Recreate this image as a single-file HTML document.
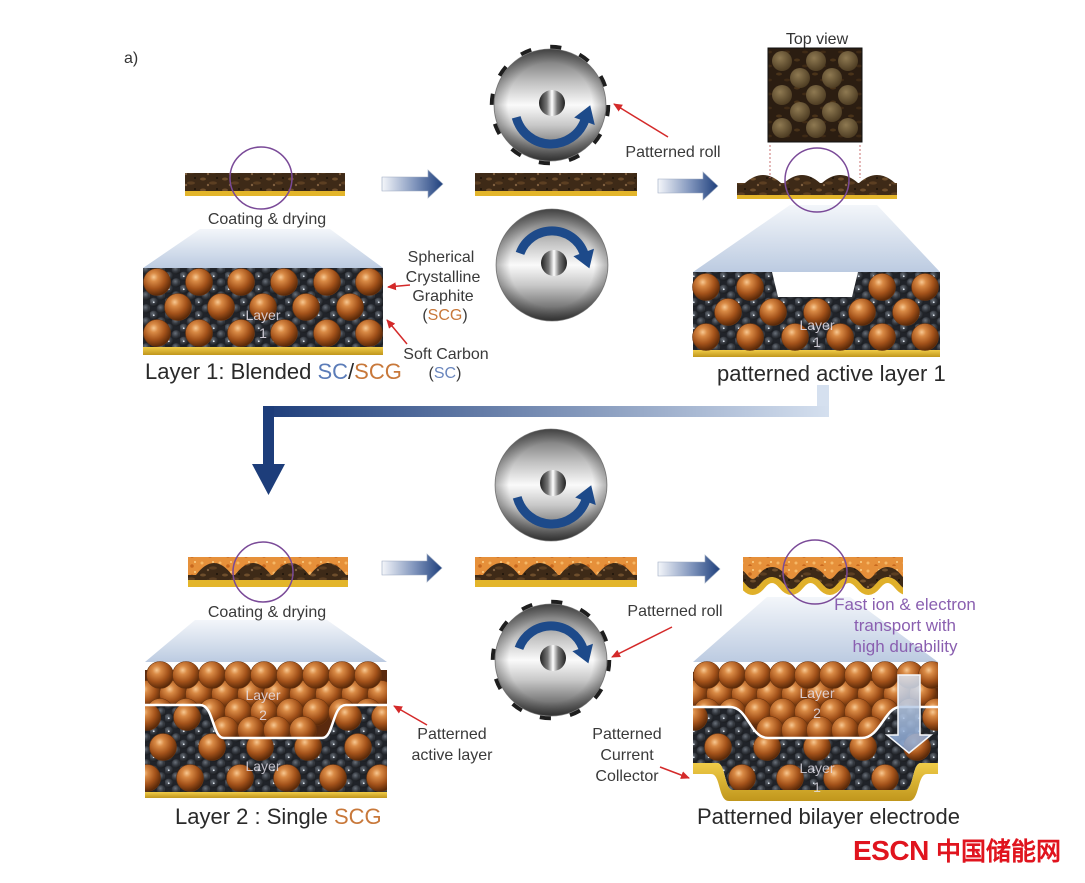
<!DOCTYPE html>
<html><head><meta charset="utf-8"><style>
html,body{margin:0;padding:0;background:#fff;}
svg{display:block;}
text{font-family:"Liberation Sans",Arial,sans-serif;}
</style></head><body>
<svg width="1085" height="883" viewBox="0 0 1085 883" xmlns="http://www.w3.org/2000/svg">
<defs>
<radialGradient id="gcu" cx="0.38" cy="0.32" r="0.72">
 <stop offset="0" stop-color="#f7c892"/>
 <stop offset="0.22" stop-color="#d98a45"/>
 <stop offset="0.6" stop-color="#a3521a"/>
 <stop offset="1" stop-color="#4f2306"/>
</radialGradient>
<radialGradient id="gcb" cx="0.4" cy="0.35" r="0.7">
 <stop offset="0" stop-color="#6a717a"/>
 <stop offset="0.5" stop-color="#363a41"/>
 <stop offset="1" stop-color="#15171a"/>
</radialGradient>
<radialGradient id="gdot" cx="0.4" cy="0.35" r="0.7">
 <stop offset="0" stop-color="#8f7a52"/>
 <stop offset="1" stop-color="#4a3920"/>
</radialGradient>
<g id="cu"><circle r="13.5" fill="url(#gcu)" stroke="#6b3510" stroke-width="0.6"/></g>
<pattern id="carb" width="15" height="13" patternUnits="userSpaceOnUse">
 <rect width="15" height="13" fill="#202329"/>
 <circle cx="3.75" cy="3.25" r="4.6" fill="url(#gcb)"/>
 <circle cx="11.25" cy="9.75" r="4.6" fill="url(#gcb)"/>
 <circle cx="11.25" cy="-3.25" r="4.6" fill="url(#gcb)"/>
 <circle cx="-3.75" cy="9.75" r="4.6" fill="url(#gcb)"/>
 <circle cx="18.75" cy="9.75" r="4.6" fill="url(#gcb)"/>
 <circle cx="3.75" cy="16.25" r="4.6" fill="url(#gcb)"/>
 <circle cx="3.75" cy="3.25" r="0.9" fill="#dfe6ee"/>
</pattern>
<linearGradient id="metal" x1="0" y1="0" x2="0" y2="1">
 <stop offset="0" stop-color="#5e5e5e"/>
 <stop offset="0.3" stop-color="#c2c2c2"/>
 <stop offset="0.5" stop-color="#fafafa"/>
 <stop offset="0.68" stop-color="#c8c8c8"/>
 <stop offset="1" stop-color="#444"/>
</linearGradient>
<radialGradient id="rim" cx="0.5" cy="0.5" r="0.5">
 <stop offset="0.75" stop-color="#000" stop-opacity="0"/>
 <stop offset="1" stop-color="#000" stop-opacity="0.3"/>
</radialGradient>
<linearGradient id="hub" x1="0" x2="1" y1="0" y2="0">
 <stop offset="0" stop-color="#222"/>
 <stop offset="0.3" stop-color="#777"/>
 <stop offset="0.5" stop-color="#fff"/>
 <stop offset="0.7" stop-color="#777"/>
 <stop offset="1" stop-color="#222"/>
</linearGradient>
<linearGradient id="barrow" x1="0" x2="1">
 <stop offset="0" stop-color="#f4f6fa"/>
 <stop offset="0.55" stop-color="#7e93bb"/>
 <stop offset="1" stop-color="#1e3f7c"/>
</linearGradient>
<linearGradient id="cone" x1="0" y1="0" x2="0" y2="1">
 <stop offset="0" stop-color="#f3f6fa"/>
 <stop offset="1" stop-color="#bccbe1"/>
</linearGradient>
<linearGradient id="bigL" gradientUnits="userSpaceOnUse" x1="263" y1="0" x2="830" y2="0">
 <stop offset="0" stop-color="#1d3d7a"/>
 <stop offset="1" stop-color="#d5e0ef"/>
</linearGradient>
<linearGradient id="yel" x1="0" y1="0" x2="0" y2="1">
 <stop offset="0" stop-color="#f0cc48"/>
 <stop offset="1" stop-color="#c0961c"/>
</linearGradient>
<linearGradient id="blueDown" x1="0" y1="0" x2="0" y2="1">
 <stop offset="0" stop-color="#dde7f4"/>
 <stop offset="1" stop-color="#7f9fd0"/>
</linearGradient>
<pattern id="soil" width="22" height="11" patternUnits="userSpaceOnUse">
 <rect width="22" height="11" fill="#3e2a17"/>
 <ellipse cx="5" cy="3" rx="3" ry="1.5" fill="#6e4e2c"/>
 <ellipse cx="15" cy="7" rx="4" ry="1.6" fill="#5c3f22"/>
 <circle cx="10" cy="9" r="1.2" fill="#806040"/>
 <circle cx="19" cy="2" r="1" fill="#1d130a"/>
</pattern>
<pattern id="soil2" width="18" height="14" patternUnits="userSpaceOnUse">
 <rect width="18" height="14" fill="#2b1d11"/>
 <ellipse cx="5" cy="4" rx="3" ry="1.5" fill="#4a3319"/>
 <ellipse cx="13" cy="10" rx="3" ry="1.4" fill="#3f2a15"/>
</pattern>
<pattern id="orng" width="18" height="10" patternUnits="userSpaceOnUse">
 <rect width="18" height="10" fill="#e6903a"/>
 <circle cx="4" cy="3" r="1.5" fill="#f6b866"/>
 <circle cx="12" cy="6" r="1.8" fill="#c8691e"/>
 <circle cx="15" cy="2" r="1" fill="#fbcf86"/>
</pattern>
<marker id="ra" markerWidth="9" markerHeight="8" refX="8" refY="4" orient="auto" markerUnits="userSpaceOnUse"><path d="M0,0 L9,4 L0,8 Z" fill="#d42a2a"/></marker>

<g id="rollbody">
 <circle r="56" fill="url(#metal)" stroke="#8a8a8a" stroke-width="0.8"/>
 <circle r="56" fill="url(#rim)"/>
 <circle cx="2" cy="-2" r="13" fill="url(#hub)"/>
</g>
<g id="teeth"><circle r="57.5" fill="none" stroke="#1e1e1e" stroke-width="5.5" stroke-dasharray="11 19.1"/></g>
<g id="arcLow">
 <path d="M-33.8,12.3 A36,36 0 0 0 34.8,15.3" fill="none" stroke="#1d4a8a" stroke-width="9"/>
 <polygon points="40.2,0.3 44.8,20 24.2,12.5" fill="#1d4a8a"/>
</g>
<g id="arcUp">
 <path d="M-32,-11.6 A34,34 0 0 1 32,-11.6" fill="none" stroke="#1d4a8a" stroke-width="9"/>
 <polygon points="37.4,3.4 42,-16.2 21.4,-8.8" fill="#1d4a8a"/>
</g>
<path id="wv" d="M685.4,0 Q695,-12 704.65,0 T723.9,0 T743.15,0 T762.4,0 T781.65,0 T800.9,0 T820.15,0 T839.4,0 T858.65,0 T877.9,0 T897.15,0 T916.4,0" fill="none"/>

<clipPath id="cBL"><rect x="145" y="640" width="242" height="152"/></clipPath>
<clipPath id="cBL2"><path d="M145,640 H387 V705 H346 C332,705 334,738 322,738 H224 C212,738 214,705 200,705 H145 Z"/></clipPath>
<clipPath id="cBR1"><path d="M693,700 H938 V763 H921 C912,763 914,790 905,790 H733 C724,790 726,763 717,763 H693 Z"/></clipPath>
<clipPath id="cBR2"><path d="M693,640 H938 V707 H900 C885,707 880,738 862,738 H768 C750,738 748,707 730,707 H693 Z"/></clipPath>
<clipPath id="cF"><rect x="743" y="550" width="160" height="50"/></clipPath>
<clipPath id="cF2"><rect x="743" y="557" width="160" height="40"/></clipPath>
</defs>

<rect width="1085" height="883" fill="#fff"/>

<text x="124" y="63" font-size="16" fill="#333">a)</text>

<!-- cones -->
<polygon points="200,229 330,229 383,268 143,268" fill="url(#cone)"/>
<polygon points="790,205 877,205 940,272 693,272" fill="url(#cone)"/>
<polygon points="195,620 327,620 387,662 145,662" fill="url(#cone)"/>
<polygon points="767,597 850,597 938,662 693,662" fill="url(#cone)"/>

<!-- top films -->
<rect x="185" y="173" width="160" height="18" fill="url(#soil)"/>
<rect x="185" y="191" width="160" height="5" fill="#e3b52a"/>
<rect x="475" y="173" width="162" height="18" fill="url(#soil)"/>
<rect x="475" y="191" width="162" height="5" fill="#e3b52a"/>
<path d="M737,183 L745,183 Q763,167 781,183 L784,183 Q802,167 820,183 L822,183 Q840,167 858,183 L859,183 Q877,167 895,183 L897,183 L897,195 L737,195 Z" fill="url(#soil)"/>
<rect x="737" y="195" width="160" height="4" fill="#e3b52a"/>

<!-- top view -->
<text x="817" y="44" font-size="16" fill="#333" text-anchor="middle">Top view</text>
<rect x="768" y="48" width="94" height="94" fill="url(#soil2)" stroke="#111" stroke-width="1"/>
<g fill="url(#gdot)">
<circle cx="782" cy="61" r="10"/><circle cx="816" cy="61" r="10"/><circle cx="848" cy="61" r="10"/>
<circle cx="800" cy="78" r="10"/><circle cx="832" cy="78" r="10"/>
<circle cx="782" cy="95" r="10"/><circle cx="816" cy="95" r="10"/><circle cx="848" cy="95" r="10"/>
<circle cx="800" cy="112" r="10"/><circle cx="832" cy="112" r="10"/>
<circle cx="782" cy="128" r="10"/><circle cx="816" cy="128" r="10"/><circle cx="848" cy="128" r="10"/>
</g>
<line x1="770" y1="145" x2="770" y2="178" stroke="#c87070" stroke-width="1" stroke-dasharray="2 2"/>
<line x1="860" y1="145" x2="860" y2="178" stroke="#c87070" stroke-width="1" stroke-dasharray="2 2"/>

<!-- block arrows -->
<polygon points="382,177 428,177 428,170 443,184 428,198 428,191 382,191" fill="url(#barrow)" stroke="#9aa8c0" stroke-width="0.6"/>
<polygon points="658,179 703,179 703,172 718,186 703,200 703,193 658,193" fill="url(#barrow)" stroke="#9aa8c0" stroke-width="0.6"/>
<polygon points="382,561 427,561 427,554 442,568 427,582 427,575 382,575" fill="url(#barrow)" stroke="#9aa8c0" stroke-width="0.6"/>
<polygon points="658,562 705,562 705,555 720,569 705,583 705,576 658,576" fill="url(#barrow)" stroke="#9aa8c0" stroke-width="0.6"/>

<!-- rollers -->
<g transform="translate(550,105)"><use href="#teeth"/><use href="#rollbody"/><use href="#arcLow"/></g>
<g transform="translate(552,265)"><use href="#rollbody"/><use href="#arcUp"/></g>
<g transform="translate(551,485)"><use href="#rollbody"/><use href="#arcLow"/></g>
<g transform="translate(551,660)"><use href="#teeth"/><use href="#rollbody"/><use href="#arcUp"/></g>

<!-- top-left block -->
<rect x="143" y="268" width="240" height="80" fill="url(#carb)"/>
<rect x="143" y="347" width="240" height="8" fill="url(#yel)"/>
<g>
<use href="#cu" x="157" y="282"/><use href="#cu" x="199" y="282"/><use href="#cu" x="241" y="282"/><use href="#cu" x="284" y="282"/><use href="#cu" x="327" y="282"/><use href="#cu" x="369" y="282"/>
<use href="#cu" x="178" y="307"/><use href="#cu" x="221" y="307"/><use href="#cu" x="263" y="307"/><use href="#cu" x="306" y="307"/><use href="#cu" x="350" y="307"/>
<use href="#cu" x="157" y="333"/><use href="#cu" x="199" y="333"/><use href="#cu" x="241" y="333"/><use href="#cu" x="284" y="333"/><use href="#cu" x="327" y="333"/><use href="#cu" x="369" y="333"/>
</g>
<text x="263" y="320" font-size="14" fill="#e6e2ec" fill-opacity="0.85" text-anchor="middle">Layer</text>
<text x="263" y="338" font-size="14" fill="#e6e2ec" fill-opacity="0.85" text-anchor="middle">1</text>

<!-- top-right block -->
<path d="M693,272 H772 L778,297 H852 L858,272 H940 V350 H693 Z" fill="url(#carb)"/>
<rect x="693" y="350" width="247" height="7" fill="url(#yel)"/>
<use href="#cu" x="706" y="287"/><use href="#cu" x="750" y="287"/><use href="#cu" x="882" y="287"/><use href="#cu" x="925" y="287"/>
<use href="#cu" x="728" y="312"/><use href="#cu" x="773" y="312"/><use href="#cu" x="817" y="312"/><use href="#cu" x="862" y="312"/><use href="#cu" x="906" y="312"/>
<use href="#cu" x="706" y="337"/><use href="#cu" x="750" y="337"/><use href="#cu" x="795" y="337"/><use href="#cu" x="840" y="337"/><use href="#cu" x="882" y="337"/><use href="#cu" x="925" y="337"/>
<text x="817" y="330" font-size="14" fill="#e6e2ec" fill-opacity="0.85" text-anchor="middle">Layer</text>
<text x="817" y="347" font-size="14" fill="#e6e2ec" fill-opacity="0.85" text-anchor="middle">1</text>

<!-- purple circles top -->
<circle cx="261" cy="178" r="31" fill="none" stroke="#7a4a98" stroke-width="1.5"/>
<circle cx="817" cy="180" r="32" fill="none" stroke="#7a4a98" stroke-width="1.5"/>

<!-- top labels -->
<text x="267" y="224" font-size="16" fill="#3a3a3a" text-anchor="middle">Coating &amp; drying</text>
<text x="673" y="157" font-size="16" fill="#3a3a3a" text-anchor="middle">Patterned roll</text>
<g font-size="16" fill="#3a3a3a" text-anchor="middle">
<text x="441" y="262">Spherical</text>
<text x="443" y="282">Crystalline</text>
<text x="443" y="301">Graphite</text>
<text x="445" y="320">(<tspan fill="#c8783a">SCG</tspan>)</text>
<text x="446" y="359">Soft Carbon</text>
<text x="445" y="378">(<tspan fill="#6a86bd">SC</tspan>)</text>
</g>
<text x="145" y="379" font-size="22" fill="#2a2a2a">Layer 1: Blended <tspan fill="#5b7cb8">SC</tspan>/<tspan fill="#c8783a">SCG</tspan></text>
<text x="717" y="381" font-size="22" fill="#2a2a2a">patterned active layer 1</text>

<!-- red arrows top -->
<line x1="668" y1="137" x2="614" y2="104" stroke="#d42a2a" stroke-width="1.5" marker-end="url(#ra)"/>
<line x1="410" y1="285" x2="388" y2="287" stroke="#d42a2a" stroke-width="1.5" marker-end="url(#ra)"/>
<line x1="407" y1="344" x2="387" y2="320" stroke="#d42a2a" stroke-width="1.5" marker-end="url(#ra)"/>

<!-- big L arrow -->
<rect x="817" y="385" width="12" height="32" fill="#d5e0ef"/>
<rect x="263" y="406" width="566" height="11" fill="url(#bigL)"/>
<rect x="263" y="406" width="11" height="60" fill="#1d3d7a"/>
<polygon points="252,464 285,464 268.5,495" fill="#1d3d7a"/>

<!-- bottom films -->
<rect x="188" y="557" width="160" height="23" fill="url(#orng)"/>
<path d="M188,575 L196,575 Q214,551 232,575 L235,575 Q253,551 271,575 L273,575 Q291,551 309,575 L310,575 Q328,551 346,575 L348,575 L348,581 L188,581 Z" fill="url(#soil)"/>
<rect x="188" y="580" width="160" height="7" fill="#e3b52a"/>

<rect x="475" y="557" width="162" height="23" fill="url(#orng)"/>
<path d="M475,575 L483,575 Q501,551 519,575 L522,575 Q540,551 558,575 L560,575 Q578,551 596,575 L597,575 Q615,551 633,575 L637,575 L637,581 L475,581 Z" fill="url(#soil)"/>
<rect x="475" y="580" width="162" height="7" fill="#e3b52a"/>

<g clip-path="url(#cF2)"><use href="#wv" y="568" stroke="url(#orng)" stroke-width="20"/><rect x="743" y="557" width="160" height="9" fill="url(#orng)"/></g>
<g clip-path="url(#cF)">
<use href="#wv" y="578" stroke="url(#soil)" stroke-width="10"/>
<use href="#wv" y="586" stroke="#e0b02a" stroke-width="6"/>
</g>

<!-- purple circles bottom -->
<circle cx="263" cy="572" r="30" fill="none" stroke="#7a4a98" stroke-width="1.5"/>
<circle cx="815" cy="572" r="32" fill="none" stroke="#7a4a98" stroke-width="1.5"/>

<!-- bottom-left block -->
<rect x="145" y="700" width="242" height="92" fill="url(#carb)"/>
<rect x="145" y="792" width="242" height="6" fill="url(#yel)"/>
<g clip-path="url(#cBL)">
<use href="#cu" x="147" y="717"/><use href="#cu" x="187" y="717"/><use href="#cu" x="348" y="717"/><use href="#cu" x="385" y="717"/>
<use href="#cu" x="163" y="747"/><use href="#cu" x="212" y="747"/><use href="#cu" x="260" y="747"/><use href="#cu" x="308" y="747"/><use href="#cu" x="358" y="747"/>
<use href="#cu" x="147" y="778"/><use href="#cu" x="190" y="778"/><use href="#cu" x="240" y="778"/><use href="#cu" x="287" y="778"/><use href="#cu" x="333" y="778"/><use href="#cu" x="380" y="778"/>
</g>
<g clip-path="url(#cBL2)">
<rect x="145" y="670" width="242" height="70" fill="#5a2a0e"/>
<use href="#cu" x="147" y="694"/><use href="#cu" x="173" y="694"/><use href="#cu" x="199" y="694"/><use href="#cu" x="225" y="694"/><use href="#cu" x="251" y="694"/><use href="#cu" x="277" y="694"/><use href="#cu" x="303" y="694"/><use href="#cu" x="329" y="694"/><use href="#cu" x="355" y="694"/><use href="#cu" x="381" y="694"/>
<use href="#cu" x="160" y="712"/><use href="#cu" x="186" y="712"/><use href="#cu" x="212" y="712"/><use href="#cu" x="238" y="712"/><use href="#cu" x="264" y="712"/><use href="#cu" x="290" y="712"/><use href="#cu" x="316" y="712"/><use href="#cu" x="342" y="712"/><use href="#cu" x="368" y="712"/>
<use href="#cu" x="225" y="730"/><use href="#cu" x="251" y="730"/><use href="#cu" x="277" y="730"/><use href="#cu" x="303" y="730"/>
<use href="#cu" x="160" y="675"/><use href="#cu" x="186" y="675"/><use href="#cu" x="212" y="675"/><use href="#cu" x="238" y="675"/><use href="#cu" x="264" y="675"/><use href="#cu" x="290" y="675"/><use href="#cu" x="316" y="675"/><use href="#cu" x="342" y="675"/><use href="#cu" x="368" y="675"/>
</g>
<path d="M145,705 H200 C214,705 212,738 224,738 H322 C334,738 332,705 346,705 H387" fill="none" stroke="#fff" stroke-width="2.5"/>
<text x="263" y="700" font-size="14" fill="#e6e2ec" fill-opacity="0.85" text-anchor="middle">Layer</text>
<text x="263" y="720" font-size="14" fill="#e6e2ec" fill-opacity="0.85" text-anchor="middle">2</text>
<text x="263" y="771" font-size="14" fill="#e6e2ec" fill-opacity="0.8" text-anchor="middle">Layer</text>

<!-- bottom-right block -->
<g clip-path="url(#cBR1)">
<rect x="693" y="700" width="245" height="92" fill="url(#carb)"/>
<use href="#cu" x="694" y="717"/><use href="#cu" x="936" y="717"/>
<use href="#cu" x="718" y="747"/><use href="#cu" x="767" y="747"/><use href="#cu" x="817" y="747"/><use href="#cu" x="863" y="747"/><use href="#cu" x="917" y="747"/>
<use href="#cu" x="742" y="778"/><use href="#cu" x="790" y="778"/><use href="#cu" x="837" y="778"/><use href="#cu" x="885" y="778"/>
</g>
<path d="M693,763 H717 C726,763 724,790 733,790 H905 C914,790 912,763 921,763 H938 V774 H927 C917,774 920,801 909,801 H729 C718,801 721,774 711,774 H693 Z" fill="url(#yel)"/>
<g clip-path="url(#cBR2)">
<rect x="693" y="672" width="245" height="70" fill="#5a2a0e"/>
<use href="#cu" x="694" y="694"/><use href="#cu" x="720" y="694"/><use href="#cu" x="745" y="694"/><use href="#cu" x="770" y="694"/><use href="#cu" x="795" y="694"/><use href="#cu" x="820" y="694"/><use href="#cu" x="845" y="694"/><use href="#cu" x="871" y="694"/><use href="#cu" x="897" y="694"/><use href="#cu" x="923" y="694"/>
<use href="#cu" x="707" y="712"/><use href="#cu" x="732" y="712"/><use href="#cu" x="758" y="712"/><use href="#cu" x="783" y="712"/><use href="#cu" x="808" y="712"/><use href="#cu" x="833" y="712"/><use href="#cu" x="858" y="712"/><use href="#cu" x="885" y="712"/><use href="#cu" x="910" y="712"/><use href="#cu" x="936" y="712"/>
<use href="#cu" x="770" y="730"/><use href="#cu" x="795" y="730"/><use href="#cu" x="820" y="730"/><use href="#cu" x="845" y="730"/><use href="#cu" x="871" y="730"/>
<use href="#cu" x="707" y="675"/><use href="#cu" x="732" y="675"/><use href="#cu" x="758" y="675"/><use href="#cu" x="783" y="675"/><use href="#cu" x="808" y="675"/><use href="#cu" x="833" y="675"/><use href="#cu" x="858" y="675"/><use href="#cu" x="885" y="675"/><use href="#cu" x="910" y="675"/><use href="#cu" x="932" y="675"/>
</g>
<path d="M693,707 H730 C748,707 750,738 768,738 H862 C880,738 885,707 900,707 H938" fill="none" stroke="#fff" stroke-width="2.5"/>
<text x="817" y="698" font-size="14" fill="#e6e2ec" fill-opacity="0.85" text-anchor="middle">Layer</text>
<text x="817" y="718" font-size="14" fill="#e6e2ec" fill-opacity="0.85" text-anchor="middle">2</text>
<text x="817" y="773" font-size="14" fill="#e6e2ec" fill-opacity="0.8" text-anchor="middle">Layer</text>
<text x="817" y="792" font-size="14" fill="#e6e2ec" fill-opacity="0.8" text-anchor="middle">1</text>
<path d="M898,675 H920 V735 H931 L909,753 L887,735 H898 Z" fill="url(#blueDown)" fill-opacity="0.85" stroke="#f4f7fc" stroke-width="1.5"/>

<!-- bottom labels -->
<text x="267" y="617" font-size="16" fill="#3a3a3a" text-anchor="middle">Coating &amp; drying</text>
<text x="675" y="616" font-size="16" fill="#3a3a3a" text-anchor="middle">Patterned roll</text>
<text x="452" y="739" font-size="16" fill="#3a3a3a" text-anchor="middle">Patterned</text>
<text x="452" y="760" font-size="16" fill="#3a3a3a" text-anchor="middle">active layer</text>
<text x="627" y="739" font-size="16" fill="#3a3a3a" text-anchor="middle">Patterned</text>
<text x="627" y="760" font-size="16" fill="#3a3a3a" text-anchor="middle">Current</text>
<text x="627" y="781" font-size="16" fill="#3a3a3a" text-anchor="middle">Collector</text>
<g font-size="17" fill="#8a5fb0" text-anchor="middle">
<text x="905" y="610">Fast ion &amp; electron</text>
<text x="905" y="631">transport with</text>
<text x="905" y="652">high durability</text>
</g>
<text x="175" y="824" font-size="22" fill="#2a2a2a">Layer 2 : Single <tspan fill="#c8783a">SCG</tspan></text>
<text x="697" y="824" font-size="22" fill="#2a2a2a">Patterned bilayer electrode</text>

<!-- red arrows bottom -->
<line x1="427" y1="725" x2="394" y2="706" stroke="#d42a2a" stroke-width="1.5" marker-end="url(#ra)"/>
<line x1="672" y1="627" x2="612" y2="657" stroke="#d42a2a" stroke-width="1.5" marker-end="url(#ra)"/>
<line x1="660" y1="767" x2="689" y2="778" stroke="#d42a2a" stroke-width="1.5" marker-end="url(#ra)"/>

<!-- watermark -->
<text x="853" y="860" font-size="28" font-weight="bold" fill="#e0141e" letter-spacing="-0.5">ESCN</text>
<text x="936" y="860" font-size="25" font-weight="bold" fill="#e0141e" font-family="'Liberation Sans','Noto Sans CJK SC',sans-serif">中国储能网</text>
</svg>
</body></html>
